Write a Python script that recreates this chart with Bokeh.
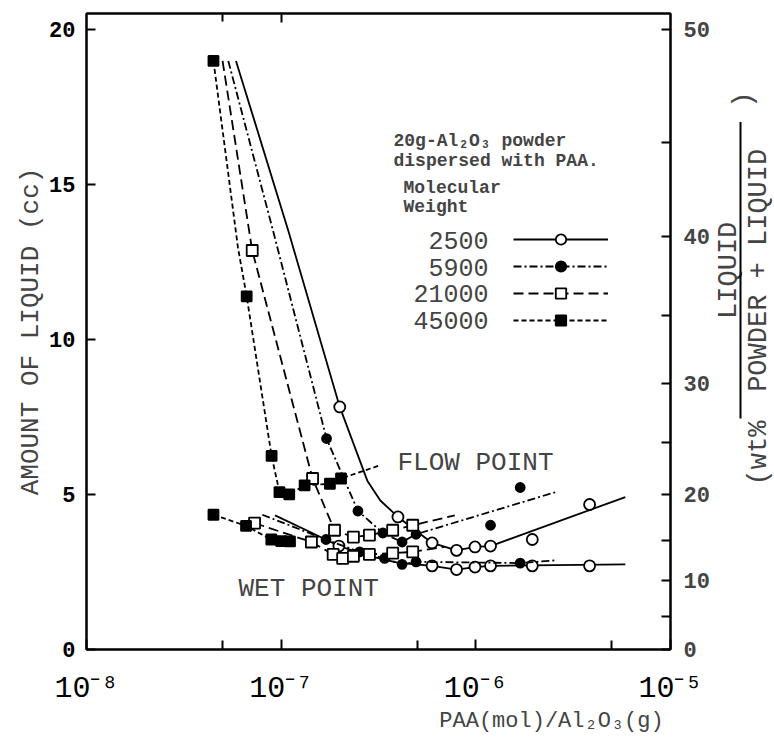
import math
from bokeh.plotting import figure
from bokeh.layouts import row
from bokeh.models import (Range1d, LinearAxis, LogAxis, FixedTicker, CustomJSTickFormatter,
                          Label, Legend, LegendItem, BoxAnnotation)
from bokeh.embed import file_html
from bokeh.resources import INLINE

# ---------------- data ----------------
mw_labels = ["2500", "5900", "21000", "45000"]

# MW 2500 (open circles, solid line)
c2500_flow_x = [5.86e-8, 1.09e-7, 2.0e-7, 2.77e-7, 3.23e-7, 3.98e-7, 5.96e-7, 7.96e-7, 9.9e-7, 1.19e-6, 5.86e-6]
c2500_flow_y = [19.0, 13.5, 7.83, 5.45, 4.81, 4.28, 3.44, 3.20, 3.31, 3.34, 4.92]
m2500_flow_x = [2.0e-7, 3.98e-7, 5.96e-7, 7.96e-7, 9.9e-7, 1.19e-6, 1.95e-6, 3.84e-6]
m2500_flow_y = [7.83, 4.28, 3.44, 3.20, 3.31, 3.34, 3.55, 4.68]
c2500_wet_x = [9.3e-8, 1.4e-7, 1.98e-7, 3.0e-7, 4.0e-7, 5.96e-7, 7.96e-7, 9.9e-7, 1.19e-6, 5.86e-6]
c2500_wet_y = [4.33, 3.80, 3.34, 2.98, 2.80, 2.70, 2.58, 2.66, 2.70, 2.75]
m2500_wet_x = [1.98e-7, 5.96e-7, 7.96e-7, 9.9e-7, 1.19e-6, 1.95e-6, 3.84e-6]
m2500_wet_y = [3.34, 2.70, 2.58, 2.66, 2.70, 2.70, 2.70]

# MW 5900 (filled circles, dash-dot line)
c5900_flow_x = [5.35e-8, 9.1e-8, 1.71e-7, 2.48e-7, 3.33e-7, 4.18e-7, 4.93e-7, 2.57e-6]
c5900_flow_y = [19.0, 13.5, 6.81, 4.47, 3.76, 3.47, 3.72, 5.08]
m5900_flow_x = [1.71e-7, 2.48e-7, 3.33e-7, 4.18e-7, 4.93e-7, 1.19e-6, 1.69e-6]
m5900_flow_y = [6.81, 4.47, 3.76, 3.47, 3.72, 4.01, 5.23]
c5900_wet_x = [8.0e-8, 1.7e-7, 2.53e-7, 3.4e-7, 4.18e-7, 4.93e-7, 1.69e-6, 2.57e-6]
c5900_wet_y = [4.35, 3.55, 3.15, 2.94, 2.75, 2.83, 2.79, 2.88]
m5900_wet_x = [1.7e-7, 2.53e-7, 3.4e-7, 4.18e-7, 4.93e-7, 1.69e-6]
m5900_wet_y = [3.55, 3.15, 2.94, 2.75, 2.83, 2.79]

# MW 21000 (open squares, dashed line)
c21000_flow_x = [5.0e-8, 7.1e-8, 1.45e-7, 1.88e-7, 2.35e-7, 2.84e-7, 3.74e-7, 4.74e-7, 7.8e-7]
c21000_flow_y = [19.0, 12.88, 5.52, 3.85, 3.63, 3.69, 3.85, 4.01, 4.33]
m21000_flow_x = [7.1e-8, 1.45e-7, 1.88e-7, 2.35e-7, 2.84e-7, 3.74e-7, 4.74e-7]
m21000_flow_y = [12.88, 5.52, 3.85, 3.63, 3.69, 3.85, 4.01]
c21000_wet_x = [7.3e-8, 1.43e-7, 1.85e-7, 2.07e-7, 2.35e-7, 2.84e-7, 3.74e-7, 4.74e-7, 6.9e-7]
c21000_wet_y = [4.08, 3.47, 3.07, 2.94, 3.01, 3.07, 3.11, 3.15, 3.31]
m21000_wet_x = [7.3e-8, 1.43e-7, 1.85e-7, 2.07e-7, 2.35e-7, 2.84e-7, 3.74e-7, 4.74e-7]
m21000_wet_y = [4.08, 3.47, 3.07, 2.94, 3.01, 3.07, 3.11, 3.15]

# MW 45000 (filled squares, short-dash line)
c45000_flow_x = [4.49e-8, 6.0e-8, 6.65e-8, 8.93e-8, 9.8e-8, 1.1e-7, 1.32e-7, 1.78e-7, 2.03e-7, 3.2e-7]
c45000_flow_y = [19.0, 12.97, 11.4, 6.25, 5.08, 5.01, 5.30, 5.35, 5.52, 5.94]
m45000_flow_x = [4.49e-8, 6.65e-8, 8.93e-8, 9.8e-8, 1.1e-7, 1.32e-7, 1.78e-7, 2.03e-7]
m45000_flow_y = [19.0, 11.4, 6.25, 5.08, 5.01, 5.30, 5.35, 5.52]
c45000_wet_x = [4.49e-8, 6.6e-8, 8.9e-8, 1.0e-7, 1.11e-7]
c45000_wet_y = [4.35, 3.99, 3.55, 3.50, 3.49]
m45000_wet_x = c45000_wet_x
m45000_wet_y = c45000_wet_y

POWDER_G = 20.0                      # g of Al2O3 (right axis: wt% liquid)
wt_ticks = [0, 5, 10, 15, 20, 25, 30, 35, 40, 45, 50]
y_ticks = [0, 5, 10, 15, 20]
x_decades = [1e-8, 1e-7, 1e-6, 1e-5]
x_fives = [5e-8, 5e-7, 5e-6]

x_title = "PAA(mol)/Al\u2082O\u2083(g)"
y_title = "AMOUNT OF LIQUID (cc)"

# ---------------- layout ----------------
FONT = "Liberation Mono"
FW, FH = 584, 636
X0, X1 = 1e-8, 1e-5
Y0, Y1 = 0.0, 20.53
PL, PT = 86, 13            # picture position of the frame (left, top)
PR, PB = 40, 89            # right / bottom borders of the main figure
W_MAIN = PL + FW + PR
H_ALL = PT + FH + PB


def xd(px):
    return 10 ** (math.log10(X0) + (px - PL) / FW * (math.log10(X1) - math.log10(X0)))


def yd(py):
    return Y0 + (PT + FH - py) / FH * (Y1 - Y0)


p = figure(x_axis_type="log", x_range=Range1d(X0, X1), y_range=Range1d(Y0, Y1),
           frame_width=FW, frame_height=FH, min_border_left=PL, min_border_right=PR,
           min_border_top=PT, min_border_bottom=PB, output_backend="svg",
           toolbar_location=None, background_fill_color="white", border_fill_color="white")
p.grid.visible = False
p.outline_line_color = "black"
p.outline_line_width = 2

# bottom axis
xa = p.xaxis[0]
xa.ticker = FixedTicker(ticks=x_decades, minor_ticks=x_fives)
xa.formatter = CustomJSTickFormatter(code="""
const e = Math.round(Math.log10(tick));
const sup = {"-":"\u207b","0":"\u2070","1":"\u00b9","2":"\u00b2","3":"\u00b3","4":"\u2074",
             "5":"\u2075","6":"\u2076","7":"\u2077","8":"\u2078","9":"\u2079"};
return "10" + String(e).split("").map(c => sup[c]).join("");
""")
xa.major_tick_in = 10
xa.major_tick_out = 0
xa.minor_tick_in = 9
xa.minor_tick_out = 0
xa.axis_line_width = 2
xa.major_tick_line_width = 2
xa.minor_tick_line_width = 2
xa.major_label_text_font = FONT
xa.major_label_text_font_size = "30px"
xa.major_label_text_color = "black"
xa.major_label_standoff = 22

# x title: a second bottom axis whose single tick label is the title
xt = LogAxis(ticker=FixedTicker(ticks=[xd(551)], minor_ticks=[]),
             formatter=CustomJSTickFormatter(args=dict(t=x_title), code="return t;"),
             axis_line_color=None, major_tick_line_color=None, minor_tick_line_color=None,
             major_tick_in=0, major_tick_out=0, major_label_standoff=0,
             major_label_text_font=FONT, major_label_text_font_size="22px")
p.add_layout(xt, "below")

# top axis (ticks only)
ta = LogAxis(ticker=FixedTicker(ticks=[1e-7], minor_ticks=[5e-8]),
             formatter=CustomJSTickFormatter(code="return '';"),
             major_tick_in=9, major_tick_out=0, minor_tick_in=8, minor_tick_out=0,
             axis_line_width=2, major_tick_line_width=2, minor_tick_line_width=2,
             major_label_standoff=0, major_label_text_font_size="1px")
p.add_layout(ta, "above")

# left axis
ya = p.yaxis[0]
ya.ticker = FixedTicker(ticks=y_ticks, minor_ticks=[])
ya.major_tick_in = 9
ya.major_tick_out = 0
ya.axis_line_width = 2
ya.major_tick_line_width = 2
ya.major_label_text_font = FONT
ya.major_label_text_font_style = "bold"
ya.major_label_text_font_size = "22px"
ya.major_label_text_color = "black"
ya.major_label_standoff = 11
ya.axis_label = y_title
ya.axis_label_text_font = FONT
ya.axis_label_text_font_style = "normal"
ya.axis_label_text_font_size = "26px"
ya.axis_label_standoff = 0

# right axis: wt% = liquid / (powder + liquid)
liq_for_wt = [POWDER_G * w / (100.0 - w) for w in wt_ticks]
ra = LinearAxis(ticker=FixedTicker(ticks=liq_for_wt, minor_ticks=[]),
                formatter=CustomJSTickFormatter(args=dict(pw=POWDER_G), code="""
const w = Math.round(100 * tick / (pw + tick));
return (w % 10 === 0) ? String(w) : "";
"""),
                major_tick_in=9, major_tick_out=0, axis_line_width=2, major_tick_line_width=2,
                major_label_text_font=FONT, major_label_text_font_style="bold",
                major_label_text_font_size="22px", major_label_standoff=13)
p.add_layout(ra, "right")

# ---------------- series ----------------
styles = {
    "2500": dict(dash="solid", marker="circle", fill="white", size=11),
    "5900": dict(dash="8 3 2 3", marker="circle", fill="black", size=9),
    "21000": dict(dash="10 5", marker="square", fill="white", size=11),
    "45000": dict(dash="5 3", marker="square", fill="black", size=10),
}
series = {
    "2500": (c2500_flow_x, c2500_flow_y, m2500_flow_x, m2500_flow_y,
             c2500_wet_x, c2500_wet_y, m2500_wet_x, m2500_wet_y),
    "5900": (c5900_flow_x, c5900_flow_y, m5900_flow_x, m5900_flow_y,
             c5900_wet_x, c5900_wet_y, m5900_wet_x, m5900_wet_y),
    "21000": (c21000_flow_x, c21000_flow_y, m21000_flow_x, m21000_flow_y,
              c21000_wet_x, c21000_wet_y, m21000_wet_x, m21000_wet_y),
    "45000": (c45000_flow_x, c45000_flow_y, m45000_flow_x, m45000_flow_y,
              c45000_wet_x, c45000_wet_y, m45000_wet_x, m45000_wet_y),
}
legend_items = []
for name in mw_labels:
    st = styles[name]
    cfx, cfy, mfx, mfy, cwx, cwy, mwx, mwy = series[name]
    lf = p.line(cfx, cfy, line_color="black", line_width=1.8, line_dash=st["dash"])
    p.line(cwx, cwy, line_color="black", line_width=1.8, line_dash=st["dash"])
    sf = p.scatter(mfx, mfy, marker=st["marker"], size=st["size"], fill_color=st["fill"],
                   line_color="black", line_width=1.8)
    p.scatter(mwx, mwy, marker=st["marker"], size=st["size"], fill_color=st["fill"],
              line_color="black", line_width=1.8)
    legend_items.append(LegendItem(label=" ", renderers=[lf, sf]))

# legend samples (numbers drawn as labels to their left)
row_y = [240, 267, 293, 320]
leg = Legend(items=legend_items, location=(513 - PL, PT + FH - 333), orientation="vertical",
             glyph_width=95, glyph_height=26, label_width=0, label_standoff=0,
             label_text_font_size="1px", padding=0, margin=0, spacing=1,
             border_line_alpha=0, background_fill_alpha=0)
p.add_layout(leg)

for name, ry in zip(mw_labels, row_y):
    p.add_layout(Label(x=xd(488), y=yd(ry), text=name, text_align="right",
                       text_baseline="middle", text_font=FONT, text_font_size="25px"))

for txt, tx, ty in [("20g-Al\u2082O\u2083 powder", 393, 140), ("dispersed with PAA.", 393, 160),
                    ("Molecular", 403, 187), ("Weight", 403, 206)]:
    p.add_layout(Label(x=xd(tx), y=yd(ty), text=txt, text_align="left",
                       text_baseline="middle", text_font=FONT, text_font_style="bold",
                       text_font_size="18px"))

p.add_layout(Label(x=xd(397), y=yd(462), text="FLOW POINT", text_align="left",
                   text_baseline="middle", text_font=FONT, text_font_size="26px"))
p.add_layout(Label(x=xd(238), y=yd(588), text="WET POINT", text_align="left",
                   text_baseline="middle", text_font=FONT, text_font_size="26px"))

# ---------------- right-hand title panel: (wt%  LIQUID / (POWDER + LIQUID) ) ----------------
W_SIDE = 774 - W_MAIN
q = figure(width=W_SIDE, height=H_ALL, x_range=Range1d(W_MAIN, 774), y_range=Range1d(H_ALL, 0),
           min_border=0, x_axis_location=None, y_axis_location=None, toolbar_location=None,
           output_backend="svg", background_fill_color="white", border_fill_color="white")
q.outline_line_color = None
q.grid.visible = False

rot = math.pi / 2
# each text is centred on (x, y) and runs upward
for txt, cx, cy in [("LIQUID", 726, 298), ("POWDER + LIQUID", 756, 298),
                    ("(wt%", 756, 510), (")", 741, 100)]:
    q.add_layout(Label(x=cx, y=cy, text=txt, angle=rot, text_align="center",
                       text_baseline="middle", text_font=FONT, text_font_size="27px"))
q.add_layout(BoxAnnotation(left=737, right=739, top=126, bottom=470, fill_color="black",
                           fill_alpha=1, line_color=None))

open("out.html", "w").write(file_html(row(p, q), INLINE))
